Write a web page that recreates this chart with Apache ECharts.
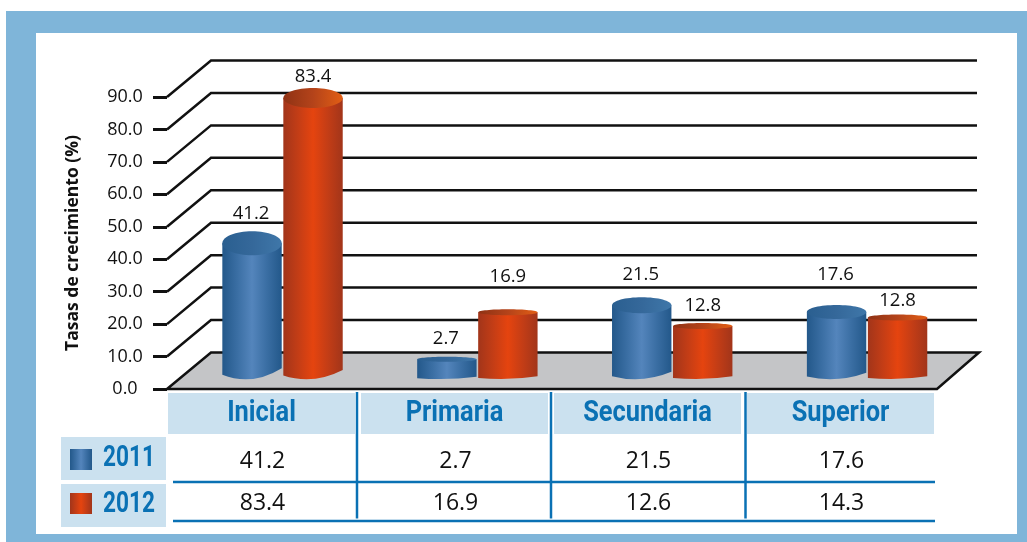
<!DOCTYPE html>
<html><head><meta charset="utf-8">
<style>html,body{margin:0;padding:0;background:#fff}#c{width:1027px;height:542px}</style>
<script src="https://cdn.jsdelivr.net/npm/echarts@6/dist/echarts.min.js"></script>
</head><body><div id="c"></div>
<script>
var categories = ['Inicial', 'Primaria', 'Secundaria', 'Superior'];
var seriesNames = ['2011', '2012'];
var values2011 = [41.2, 2.7, 21.5, 17.6];
var values2012 = [83.4, 16.9, 12.6, 14.3];
var labels2011 = [41.2, 2.7, 21.5, 17.6];
var labels2012 = [83.4, 16.9, 12.8, 12.8];
var yTicks = [0, 10, 20, 30, 40, 50, 60, 70, 80, 90];

// pseudo-3D look of each cylinder (not data)
var capDepth = [[12, 2.5, 8, 7], [10, 3, 3, 3]];
var standBack = [[12, 21, 14, 20], [20.5, 22, 22, 25]];
var labelLift = [[0, 0, 3, 15], [0, 15, 0, 0]];

var BLUE = '#0a71b4', CELL = '#cbe1ef', FRAME = '#7fb5d9', INK = '#111111';
var SANS = '"Open Sans", sans-serif', COND = 'Roboto, sans-serif';
var BACK_X = 44, BACK_Y = 36.5;

function hGrad(stops) {
  return { type: 'linear', x: 0, y: 0, x2: 1, y2: 0, colorStops: stops.map(function (c, i) {
    return { offset: i / (stops.length - 1), color: c };
  }) };
}
var bodyFill = [hGrad(['#23588a', '#3a6ea3', '#5485bc', '#3a6ea3', '#23588a']),
                hGrad(['#a2351a', '#c33d16', '#e5440f', '#c33d16', '#a2351a'])];
var capFill = [hGrad(['#2a5f90', '#35689a', '#3f77a9']),
               hGrad(['#8f3214', '#b4431a', '#e25e14'])];

function renderFrame(params, api) {
  var v = api.value(1), y = api.coord([0, v])[1], cs = params.coordSys;
  var x0 = cs.x + 2, x1 = cs.x + cs.width;
  if (v === 0) {
    return { type: 'polygon', z2: 2, shape: { points: [[x0, y], [x0 + BACK_X, y - BACK_Y], [x1 + 42, y - BACK_Y], [x1, y]] },
      style: { fill: '#c4c5c7', stroke: INK, lineWidth: 2.5 } };
  }
  return { type: 'polyline', z2: 1, shape: { points: [[x0, y], [x0 + BACK_X, y - BACK_Y], [x1 + 40, y - BACK_Y]] },
    style: { fill: null, stroke: INK, lineWidth: 2.5 } };
}

function cylinderSeries(s, values, labels) {
  return {
    type: 'custom', xAxisIndex: 1, yAxisIndex: 1, z: 5, silent: true,
    data: values.map(function (v, i) { return [i, v]; }),
    encode: { x: 0, y: 1 },
    renderItem: function (params, api) {
      var i = api.value(0), p = api.coord([i, api.value(1)]), zero = api.coord([i, 0]);
      var rx = 29.7, cx = p[0] + (s === 0 ? -30.5 : 30.5);
      var ry = capDepth[s][i], top = p[1] - standBack[s][i];
      var B = zero[1] - 10, yL = B - ry * 0.35, yR = B - ry * 0.9;
      var ctrl = 2 * B - 0.5 * (yL + yR);
      var path = 'M' + (cx - rx) + ' ' + top + 'L' + (cx + rx) + ' ' + top + 'L' + (cx + rx) + ' ' + yR +
        'Q' + cx + ' ' + ctrl + ' ' + (cx - rx) + ' ' + yL + 'Z';
      return { type: 'group', children: [
        { type: 'path', shape: { pathData: path }, style: { fill: bodyFill[s] } },
        { type: 'ellipse', shape: { cx: cx, cy: top, rx: rx, ry: ry }, style: { fill: capFill[s] } },
        { type: 'text', style: { text: labels[i].toFixed(1), x: cx + (s === 0 ? -1 : 0), y: p[1] - 42 - labelLift[s][i],
          align: 'center', verticalAlign: 'middle', fontFamily: SANS, fontSize: 18.5, fill: '#111' } }
      ] };
    }
  };
}

function rowSeries(values, rowY) {
  return {
    type: 'custom', z: 6, silent: true,
    data: values.map(function (v, i) { return [i, v]; }),
    encode: { x: 0, y: 1 },
    renderItem: function (params, api) {
      return { type: 'text', style: { text: api.value(1).toFixed(1), x: api.coord([api.value(0), 0])[0] + 1, y: rowY,
        align: 'center', verticalAlign: 'middle', fontFamily: SANS, fontSize: 23, fill: '#111' } };
    }
  };
}

// header row of the table: one shaded cell with a condensed bold name per category
var headerSeries = {
  type: 'custom', z: 6, silent: true,
  data: categories.map(function (c, i) { return [i, 0]; }),
  encode: { x: 0, y: 1 },
  renderItem: function (params, api) {
    var i = api.value(0), p = api.coord([i, 0]);
    return { type: 'group', children: [
      { type: 'rect', shape: { x: p[0] - 93.5, y: p[1] + 4, width: 187, height: 41 }, style: { fill: CELL } },
      { type: 'text', x: p[0], y: p[1] + 25, scaleX: 0.877, style: { text: categories[i], align: 'center', verticalAlign: 'middle',
        fontFamily: COND, fontWeight: 'bold', fontSize: 29, fill: BLUE } }
    ] };
  }
};

function legendText(name, y) {
  return { type: 'text', z: 2, x: 129, y: y, scaleX: 0.78, style: { text: name, align: 'center', verticalAlign: 'middle',
    fontFamily: COND, fontWeight: 'bold', fontSize: 29, fill: BLUE } };
}

var graphics = [
  { type: 'rect', z: -3, shape: { x: 6, y: 11, width: 1021, height: 531 }, style: { fill: FRAME } },
  { type: 'rect', z: -2, shape: { x: 36, y: 33, width: 981, height: 501 }, style: { fill: '#fff' } },
  { type: 'rect', z: 1, shape: { x: 61, y: 437, width: 105, height: 43 }, style: { fill: CELL } },
  { type: 'rect', z: 1, shape: { x: 61, y: 484, width: 105, height: 43 }, style: { fill: CELL } },
  { type: 'rect', z: 2, shape: { x: 70, y: 449, width: 22, height: 21 }, style: { fill: bodyFill[0] } },
  { type: 'rect', z: 2, shape: { x: 70, y: 493, width: 22, height: 21 }, style: { fill: bodyFill[1] } },
  legendText(seriesNames[0], 459),
  legendText(seriesNames[1], 505),
  { type: 'line', z: 2, shape: { x1: 173, y1: 482, x2: 935, y2: 482 }, style: { stroke: BLUE, lineWidth: 2.5 } },
  { type: 'line', z: 2, shape: { x1: 173, y1: 521, x2: 935, y2: 521 }, style: { stroke: BLUE, lineWidth: 2.5 } }
];
[357, 551, 745.5].forEach(function (x) {
  graphics.push({ type: 'line', z: 2, shape: { x1: x, y1: 392, x2: x, y2: 518.5 }, style: { stroke: BLUE, lineWidth: 2.5 } });
});

var chart = echarts.init(document.getElementById('c'), null, { renderer: 'canvas' });
chart.setOption({
  animation: false,
  grid: [
    { left: 165, right: 90, top: 97, bottom: 153 },
    { left: 185.1, right: 62.5, top: 97, bottom: 153 }
  ],
  xAxis: [
    { type: 'category', gridIndex: 0, data: categories, axisLine: { show: false }, axisTick: { show: false }, axisLabel: { show: false } },
    { type: 'category', gridIndex: 1, data: categories, show: false }
  ],
  yAxis: [
    { type: 'value', gridIndex: 0, min: 0, max: 90, interval: 10, offset: -2,
      name: 'Tasas de crecimiento (%)', nameLocation: 'middle', nameRotate: 90, nameGap: 85,
      nameTextStyle: { fontFamily: SANS, fontWeight: 'bold', fontSize: 17.5, color: '#111' },
      axisLine: { show: false }, splitLine: { show: false },
      axisTick: { show: true, length: 14, lineStyle: { color: INK, width: 3 } },
      axisLabel: { margin: 42, align: 'center', fontFamily: SANS, fontSize: 18, color: '#111',
        formatter: function (v) { return v.toFixed(1); } } },
    { type: 'value', gridIndex: 1, min: 0, max: 90, interval: 10, show: false }
  ],
  graphic: graphics,
  series: [
    { type: 'custom', z: 3, silent: true, data: yTicks.map(function (v) { return [0, v]; }),
      encode: { x: 0, y: 1 }, renderItem: renderFrame },
    cylinderSeries(0, values2011, labels2011),
    cylinderSeries(1, values2012, labels2012),
    headerSeries,
    rowSeries(values2011, 461.5),
    rowSeries(values2012, 503)
  ]
});
</script></body></html>
